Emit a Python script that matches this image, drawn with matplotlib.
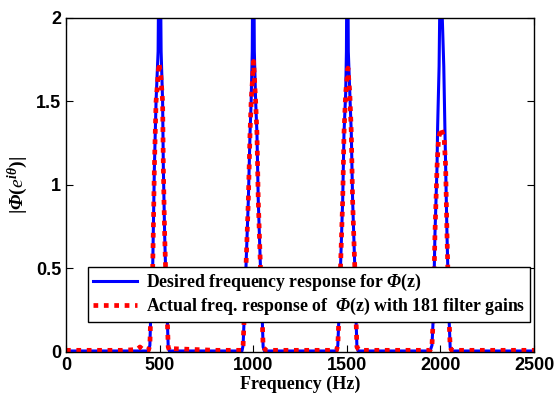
"""
Desired vs. actual frequency response of the comb filter
"""

import matplotlib
matplotlib.use('Agg')
import matplotlib.pyplot as plt

plt.rcParams['mathtext.fontset'] = 'custom'
plt.rcParams['mathtext.rm'] = 'Liberation Serif:bold'
plt.rcParams['mathtext.it'] = 'Liberation Serif:italic'
plt.rcParams['mathtext.bf'] = 'Liberation Serif:bold'
plt.rcParams['mathtext.bfit'] = 'Liberation Serif:bold:italic'

blue = '#0000ff'
red = '#ff0000'

# desired response (Hz, magnitude)
desired_freq = [0, 200, 400, 440, 448, 452, 463, 466, 472, 481, 492, 500, 508, 516, 520, 527,
                532, 541, 546, 552, 800, 940, 946, 952, 962, 974, 983, 989, 995, 1000,
                1006, 1013, 1020, 1027, 1038, 1048, 1053, 1060, 1300, 1445, 1452, 1458,
                1467, 1478, 1485, 1494, 1498, 1503, 1508, 1516, 1524, 1531, 1542, 1549,
                1554, 1560, 1800, 1945, 1955, 1962, 1971, 1982, 1985, 1993, 1996, 2003,
                2010, 2018, 2024, 2028, 2035, 2046, 2052, 2060, 2300, 2500]
desired_mag = [0.006, 0.006, 0.006, 0.006, 0.04, 0.2, 0.5, 0.7, 1.1, 1.5, 1.8, 2.9, 1.8, 1.5,
               1.1, 0.7, 0.5, 0.2, 0.03, 0.006, 0.006, 0.006, 0.04, 0.21, 0.53, 0.91,
               1.31, 1.5, 1.8, 2.9, 1.8, 1.5, 1.31, 0.91, 0.53, 0.21, 0.03, 0.006, 0.006,
               0.006, 0.04, 0.21, 0.53, 0.91, 1.31, 1.55, 1.8, 2.9, 1.8, 1.55, 1.31, 0.91,
               0.53, 0.21, 0.03, 0.006, 0.006, 0.006, 0.04, 0.21, 0.71, 1.11, 1.34, 1.71,
               2.0, 2.6, 2.0, 1.71, 1.34, 1.11, 0.71, 0.21, 0.03, 0.006, 0.006, 0.006]

# actual response with 181 filter gains
actual_freq = [0, 150, 300, 380, 395, 410, 440, 448, 452, 458, 463, 466, 472, 481, 497, 507,
               516, 520, 527, 532, 541, 546, 552, 565, 800, 940, 946, 952, 962, 974, 983,
               989, 1002, 1013, 1020, 1027, 1038, 1048, 1053, 1060, 1070, 1300, 1445, 1452,
               1458, 1467, 1478, 1485, 1494, 1506, 1516, 1524, 1531, 1542, 1549, 1554,
               1560, 1570, 1800, 1945, 1955, 1962, 1971, 1982, 1990, 2003, 2020, 2028,
               2035, 2046, 2052, 2060, 2300, 2500]
actual_mag = [0.01, 0.01, 0.01, 0.015, 0.03, 0.015, 0.01, 0.04, 0.2, 0.35, 0.5, 0.7, 1.1, 1.5,
              1.73, 1.65, 1.5, 1.1, 0.7, 0.5, 0.2, 0.03, 0.01, 0.02, 0.01, 0.01, 0.04, 0.21,
              0.53, 0.91, 1.31, 1.5, 1.74, 1.5, 1.31, 0.91, 0.53, 0.21, 0.03, 0.02, 0.01,
              0.01, 0.01, 0.04, 0.21, 0.53, 0.91, 1.31, 1.55, 1.70, 1.55, 1.31, 0.91, 0.53,
              0.21, 0.03, 0.02, 0.01, 0.01, 0.01, 0.04, 0.21, 0.71, 1.11, 1.28, 1.34, 1.28,
              1.11, 0.71, 0.21, 0.03, 0.01, 0.01, 0.01]

x_ticks = [0, 500, 1000, 1500, 2000, 2500]
y_ticks = [0, 0.5, 1, 1.5, 2]
y_tick_labels = ['0', '0.5', '1', '1.5', '2']

fig = plt.figure(figsize=(5.58, 3.98), dpi=100)
ax = fig.add_axes([0.1183, 0.1156, 0.8387, 0.8392])

ax.plot(desired_freq, desired_mag, color=blue, linewidth=2.2,
        label=r'Desired frequency response for $\mathbfit{\Phi}$(z)')
ax.plot(actual_freq, actual_mag, color=red, linewidth=3.4, dashes=(1, 1.2),
        dash_capstyle='butt',
        label=r'Actual freq. response of  $\mathbfit{\Phi}$(z) with 181 filter gains')

ax.set_xlim(0, 2500)
ax.set_ylim(0, 2)
ax.set_xticks(x_ticks)
ax.set_yticks(y_ticks)
ax.set_yticklabels(y_tick_labels)
ax.tick_params(direction='in', top=True, right=True, length=5, width=0.8,
               labelsize=13)
for lab in ax.get_xticklabels() + ax.get_yticklabels():
    lab.set_family('Liberation Sans')
    lab.set_fontweight('bold')

for s in ax.spines.values():
    s.set_linewidth(1)
    s.set_color('k')

ax.set_xlabel('Frequency (Hz)', family='Liberation Serif', fontweight='bold',
              fontsize=13, labelpad=1)
ax.set_ylabel(r'$|\mathbfit{\Phi}(e^{\mathbfit{i\theta}})|$', fontsize=14, labelpad=4)

leg = ax.legend(loc='lower right', bbox_to_anchor=(0.991, 0.09),
                prop={'family': 'Liberation Serif', 'weight': 'bold', 'size': 12.8},
                fancybox=False, framealpha=1, edgecolor='k', handlelength=2.5,
                borderpad=0.25, labelspacing=0.2, handletextpad=0.5,
                borderaxespad=0)
leg.get_frame().set_linewidth(1)

fig.savefig('out.png', dpi=100)
